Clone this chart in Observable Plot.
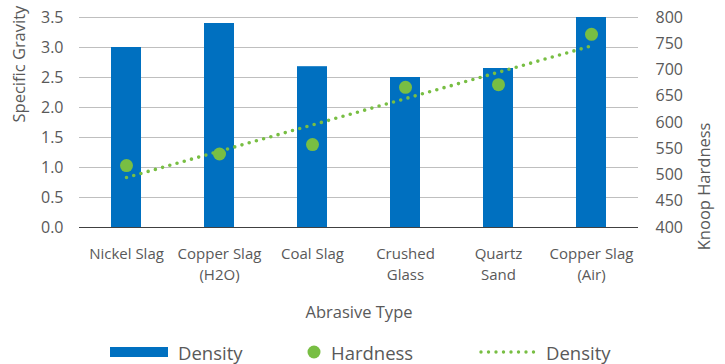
<!DOCTYPE html>
<html><head><meta charset="utf-8">
<script src="https://cdn.jsdelivr.net/npm/d3@7"></script>
<script src="https://cdn.jsdelivr.net/npm/@observablehq/plot@0.6"></script>
<style>
body{margin:0;background:#fff;font-family:"Open Sans",sans-serif;color:#595959}
#legend{position:relative;height:44px;width:725px;font-size:18.5px}
.item{position:absolute;top:0;height:44px;display:flex;align-items:center;white-space:nowrap}
.item svg{margin-right:10px}
</style></head><body>
<div id="chart"></div>
<div id="legend"></div>
<script>
const categories = ["Nickel Slag","Copper Slag (H2O)","Coal Slag","Crushed Glass","Quartz Sand","Copper Slag (Air)"];
const tickLabels = ["Nickel Slag","Copper Slag\n(H2O)","Coal Slag","Crushed\nGlass","Quartz\nSand","Copper Slag\n(Air)"];
const specificGravity = [3.0, 3.4, 2.68, 2.5, 2.65, 3.5];
const knoopHardness = [518, 540, 558, 667, 672, 768];
const sgTicks = [0, 0.5, 1.0, 1.5, 2.0, 2.5, 3.0, 3.5];
const hardnessTicks = [400, 450, 500, 550, 600, 650, 700, 750, 800];
const legendLabels = ["Density", "Hardness", "Density"];

const BLUE = "#0070C0", GREEN = "#78BE43", TEXT = "#595959";
const h2y = h => (h - 400) / 400 * 3.5;
const y2h = v => Math.round(400 + v / 3.5 * 400);

const data = categories.map((c, i) => ({c, sg: specificGravity[i], h: knoopHardness[i]}));

// linear trendline of hardness over category index
const n = knoopHardness.length;
const mx = d3.mean(d3.range(n)), my = d3.mean(knoopHardness);
const slope = d3.sum(d3.range(n), i => (i - mx) * (knoopHardness[i] - my)) / d3.sum(d3.range(n), i => (i - mx) ** 2);
const intercept = my - slope * mx;
const trend = categories.map((c, i) => ({c, y: h2y(intercept + slope * i)}));

const plot = Plot.plot({
  width: 725, height: 330,
  marginTop: 17, marginBottom: 103, marginLeft: 79, marginRight: 87,
  style: {fontFamily: "'Open Sans', sans-serif", fontSize: "15px", color: TEXT, background: "#fff"},
  x: {domain: categories, paddingInner: 0.68, paddingOuter: 0.34, align: 0.5},
  y: {domain: [0, 3.5]},
  marks: [
    Plot.gridY(sgTicks, {stroke: "#bfbfbf", strokeOpacity: 1}),
    Plot.barY(data, {x: "c", y: "sg", fill: BLUE}),
    Plot.ruleY([0], {stroke: "#404040"}),
    Plot.dot(data, {x: "c", y: d => h2y(d.h), r: 6.5, fill: GREEN}),
    Plot.line(trend, {x: "c", y: "y", stroke: GREEN, strokeWidth: 3.6, strokeDasharray: "0 7.5", strokeLinecap: "round"}),
    Plot.axisX({tickSize: 0, tickPadding: 17, tickFormat: d => tickLabels[categories.indexOf(d)], lineHeight: 1.4, label: null, fill: TEXT}),
    Plot.axisY(sgTicks, {anchor: "left", tickSize: 0, tickPadding: 16, tickFormat: d3.format(".1f"), label: null, fill: TEXT, fontSize: 16}),
    Plot.axisY(hardnessTicks.map(h2y), {anchor: "right", tickSize: 0, tickPadding: 17, tickFormat: y2h, label: null, fill: TEXT, fontSize: 16}),
    Plot.text(["Specific Gravity"], {frameAnchor: "left", rotate: -90, dx: -60, fontSize: 16.5, fill: TEXT}),
    Plot.text(["Knoop Hardness"], {frameAnchor: "right", rotate: -90, dx: 66, fontSize: 16.5, fill: TEXT}),
    Plot.text(["Abrasive Type"], {frameAnchor: "bottom", dy: 90, fontSize: 16.5, fill: TEXT})
  ]
});
document.getElementById("chart").appendChild(plot);

const legend = document.getElementById("legend");
const swatches = [
  `<svg width="58" height="10"><rect width="58" height="10" fill="${BLUE}"/></svg>`,
  `<svg width="14" height="14"><circle cx="7" cy="7" r="6.5" fill="${GREEN}"/></svg>`,
  `<svg width="58" height="6"><line x1="3" x2="56" y1="3" y2="3" stroke="${GREEN}" stroke-width="3.4" stroke-dasharray="0 7.5" stroke-linecap="round"/></svg>`
];
const lefts = [110, 307, 478];
legendLabels.forEach((t, i) => {
  const d = document.createElement("div");
  d.className = "item";
  d.style.left = lefts[i] + "px";
  d.innerHTML = swatches[i] + `<span>${t}</span>`;
  legend.appendChild(d);
});
</script>
</body></html>
